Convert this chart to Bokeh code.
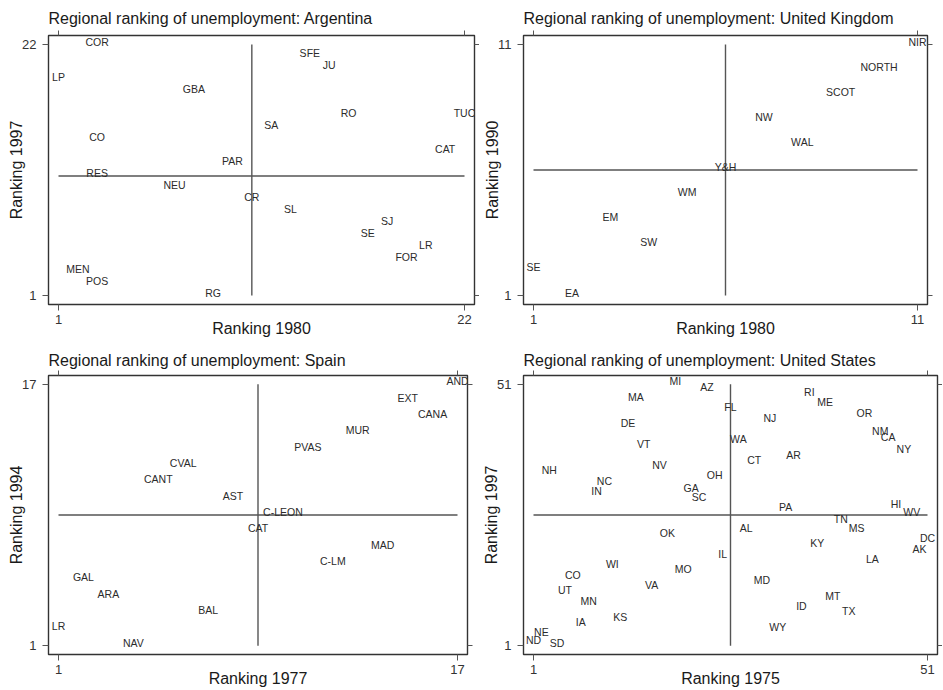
from bokeh.plotting import figure
from bokeh.layouts import row, column
from bokeh.models import FixedTicker, LinearAxis, Range1d, CustomJSTickFormatter, ColumnDataSource
from bokeh.core.properties import value
from bokeh.embed import file_html
from bokeh.resources import INLINE

# ---------------- data ----------------
arg_regions = ["COR", "LP", "GBA", "SFE", "JU", "RO", "TUC", "SA", "CO", "CAT", "PAR",
               "RES", "NEU", "CR", "SL", "SJ", "SE", "LR", "FOR", "MEN", "POS", "RG"]
arg_1980 = [3, 1, 8, 14, 15, 16, 22, 12, 3, 21, 10, 3, 7, 11, 13, 18, 17, 20, 19, 2, 3, 9]
arg_1997 = [22, 19, 18, 21, 20, 16, 16, 15, 14, 13, 12, 11, 10, 9, 8, 7, 6, 5, 4, 3, 2, 1]
arg_ticks = [1, 22]
arg_center = [11, 11]

uk_regions = ["NIR", "NORTH", "SCOT", "NW", "WAL", "Y&H", "WM", "EM", "SW", "SE", "EA"]
uk_1980 = [11, 10, 9, 7, 8, 6, 5, 3, 4, 1, 2]
uk_1990 = [11, 10, 9, 8, 7, 6, 5, 4, 3, 2, 1]
uk_ticks = [1, 11]
uk_center = [6, 6]

es_regions = ["AND", "EXT", "CANA", "MUR", "PVAS", "CVAL", "CANT", "AST", "C-LEON", "CAT",
              "MAD", "C-LM", "GAL", "ARA", "BAL", "LR", "NAV"]
es_1977 = [17, 15, 16, 13, 11, 6, 5, 8, 10, 9, 14, 12, 2, 3, 7, 1, 4]
es_1994 = [17, 16, 15, 14, 13, 12, 11, 10, 9, 8, 7, 6, 5, 4, 3, 2, 1]
es_ticks = [1, 17]
es_center = [9, 9]

us_states = ["MI", "AZ", "RI", "MA", "ME", "FL", "OR", "NJ", "DE", "NM",
             "CA", "WA", "VT", "NY", "AR", "CT", "NV", "NH", "OH", "NC",
             "GA", "IN", "SC", "HI", "PA", "WV", "TN", "MS", "AL", "OK",
             "DC", "KY", "AK", "IL", "LA", "WI", "MO", "CO", "MD", "VA",
             "UT", "MT", "MN", "ID", "TX", "KS", "IA", "WY", "NE", "ND", "SD"]
us_1975 = [19, 23, 36, 14, 38, 26, 43, 31, 13, 45,
           46, 27, 15, 48, 34, 29, 17, 3, 24, 10,
           21, 9, 22, 47, 33, 49, 40, 42, 28, 18,
           51, 37, 50, 25, 44, 11, 20, 6, 30, 16,
           5, 39, 8, 35, 41, 12, 7, 32, 2, 1, 4]
us_1997 = [51, 50, 49, 48, 47, 46, 45, 44, 43, 41.5,
           40.3, 40, 39, 38, 37, 36, 35, 34, 33, 32,
           30.5, 30, 28.8, 27.6, 27, 26, 24.6, 23, 23, 22,
           21, 20, 19, 18, 17, 16, 15, 14, 13, 12,
           11, 10, 9, 8, 7, 6, 5, 4, 3, 1.5, 1]
us_ticks = [1, 51]
us_center = [26, 26]

FONT = "Liberation Sans"
DARK = "#2b2b2b"


def panel(title, xlab, ylab, labels, xs, ys, ticks_x, ticks_y, center,
          width, height, bl, br, bt, bb, tstand):
    fw = width - bl - br
    fh = height - bt - bb
    padx, pady = 10, 9
    sx = ticks_x[1] - ticks_x[0]
    sy = ticks_y[1] - ticks_y[0]
    ux = padx * sx / (fw - 2 * padx)
    uy = pady * sy / (fh - 2 * pady)
    p = figure(width=width, height=height, output_backend="svg", toolbar_location=None,
               x_range=Range1d(ticks_x[0] - ux, ticks_x[1] + ux),
               y_range=Range1d(ticks_y[0] - uy, ticks_y[1] + uy),
               min_border_left=bl, min_border_right=br,
               min_border_top=bt, min_border_bottom=bb,
               title=title, background_fill_color="white",
               border_fill_color="white")
    p.title.text_font = FONT
    p.title.text_font_size = "16px"
    p.title.text_font_style = "normal"
    p.title.text_color = "#1a1a1a"
    p.title.align = "left"
    p.title.standoff = tstand
    p.grid.grid_line_color = None
    p.outline_line_color = "#333333"
    p.outline_line_width = 1.4

    for ax, t in ((p.xaxis[0], ticks_x), (p.yaxis[0], ticks_y)):
        ax.ticker = FixedTicker(ticks=t)
        ax.axis_line_color = None
        ax.major_tick_out = 6
        ax.major_tick_in = 0
        ax.major_tick_line_color = "#555555"
        ax.major_tick_line_width = 1
        ax.minor_tick_line_color = None
        ax.major_label_text_font = FONT
        ax.major_label_text_font_size = "13px"
        ax.major_label_text_color = "#333333"
        ax.axis_label_text_font = FONT
        ax.axis_label_text_font_size = "16px"
        ax.axis_label_text_font_style = "normal"
        ax.axis_label_text_color = "#1a1a1a"
    p.xaxis[0].axis_label = xlab
    p.yaxis[0].axis_label = ylab
    p.xaxis[0].major_label_standoff = 4
    p.xaxis[0].axis_label_standoff = -7
    p.yaxis[0].major_label_standoff = 6
    p.yaxis[0].axis_label_standoff = -6

    for loc, t in (("above", ticks_x), ("right", ticks_y)):
        ax = LinearAxis(ticker=FixedTicker(ticks=t),
                        formatter=CustomJSTickFormatter(code="return ''"),
                        axis_line_color=None, major_tick_out=5, major_tick_in=0,
                        major_tick_line_color="#555555", minor_tick_line_color=None,
                        major_label_standoff=0, major_label_text_font_size="0px")
        p.add_layout(ax, loc)

    p.segment(x0=[ticks_x[0]], y0=[center[1]], x1=[ticks_x[1]], y1=[center[1]],
              line_color="#555555", line_width=1.4)
    p.segment(x0=[center[0]], y0=[ticks_y[0]], x1=[center[0]], y1=[ticks_y[1]],
              line_color="#555555", line_width=1.4)

    src = ColumnDataSource(dict(x=xs, y=ys, label=labels))
    p.text(x="x", y="y", text="label", source=src,
           text_font=value(FONT), text_font_size=value("10.5px"),
           text_align="center", text_baseline="middle",
           text_color=DARK, y_offset=-3)
    return p


p1 = panel("Regional ranking of unemployment: Argentina", "Ranking 1980", "Ranking 1997",
           arg_regions, arg_1980, arg_1997, arg_ticks, arg_ticks, arg_center,
           479, 345, 48, 5, 35, 41, 7)
p2 = panel("Regional ranking of unemployment: United Kingdom", "Ranking 1980", "Ranking 1990",
           uk_regions, uk_1980, uk_1990, uk_ticks, uk_ticks, uk_center,
           463, 345, 44, 15, 35, 41, 7)
p3 = panel("Regional ranking of unemployment: Spain", "Ranking 1977", "Ranking 1994",
           es_regions, es_1977, es_1994, es_ticks, es_ticks, es_center,
           473, 344, 48, 6, 30, 31, 4)
p4 = panel("Regional ranking of unemployment: United States", "Ranking 1975", "Ranking 1997",
           us_states, us_1975, us_1997, us_ticks, us_ticks, us_center,
           469, 344, 50, 5, 30, 31, 4)

layout = column(row(p1, p2), row(p3, p4))
open("out.html", "w").write(file_html(layout, INLINE))
